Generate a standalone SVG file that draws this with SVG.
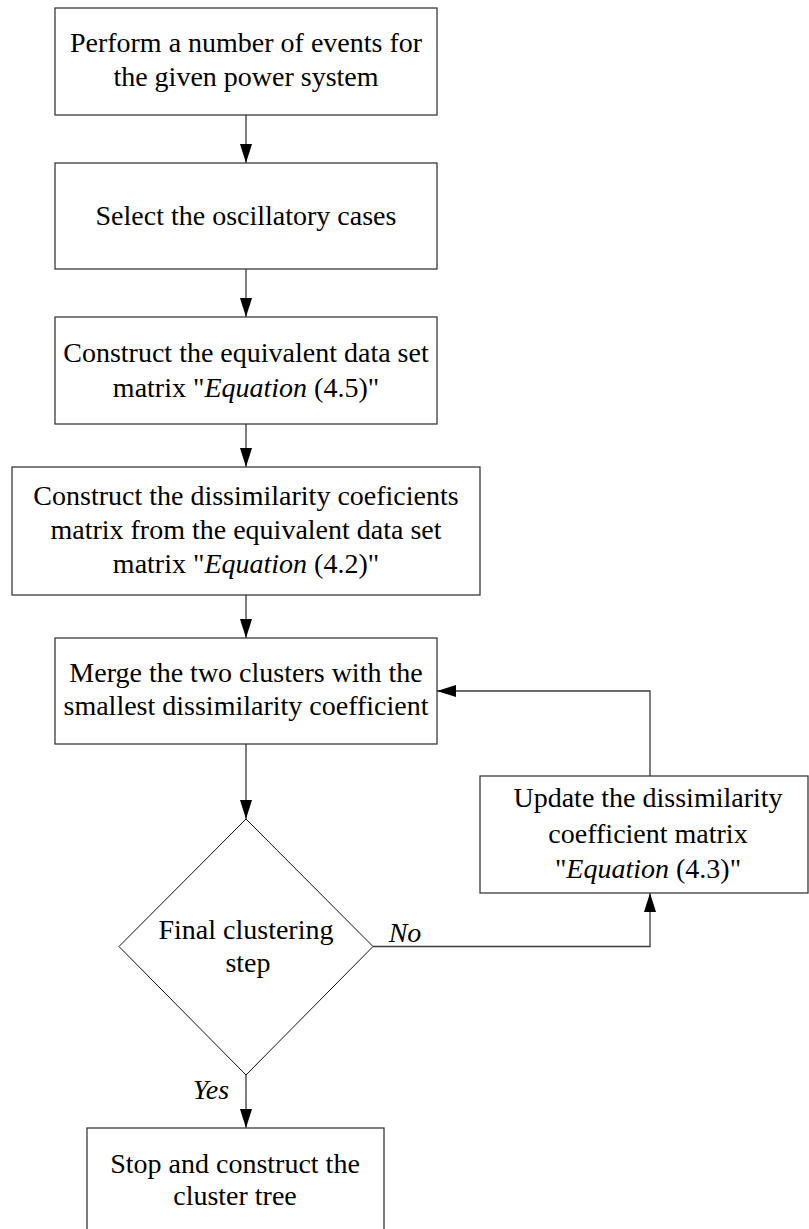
<svg xmlns="http://www.w3.org/2000/svg" width="809" height="1229" viewBox="0 0 809 1229">
<style>
.box{fill:#fff;stroke:#3a3a3a;stroke-width:1.3}
.dia{fill:#fff;stroke:#111;stroke-width:1}
.con{fill:none;stroke:#3a3a3a;stroke-width:1.3}
text{font-family:"Liberation Serif","Times New Roman",serif;font-size:28px;fill:#000;text-anchor:middle}
.it{font-style:italic}
</style>
<defs>
<marker id="ah" markerUnits="userSpaceOnUse" markerWidth="20" markerHeight="13" refX="19" refY="6" orient="auto">
<path d="M0,0 L19,6 L0,12 z" fill="#000"/>
</marker>
</defs>
<rect width="809" height="1229" fill="#fff"/>
<g id="connectors">
<line class="con" x1="246" y1="115" x2="246" y2="163" marker-end="url(#ah)"/>
<line class="con" x1="246" y1="269" x2="246" y2="317" marker-end="url(#ah)"/>
<line class="con" x1="246" y1="424" x2="246" y2="467" marker-end="url(#ah)"/>
<line class="con" x1="246" y1="595" x2="246" y2="638" marker-end="url(#ah)"/>
<line class="con" x1="246" y1="744" x2="246" y2="819" marker-end="url(#ah)"/>
<polyline class="con" points="650,776 650,691 437,691" marker-end="url(#ah)"/>
<polyline class="con" points="373,946.5 650,946.5 650,893" marker-end="url(#ah)"/>
<line class="con" x1="246" y1="1075" x2="246" y2="1128" marker-end="url(#ah)"/>
<text class="it" x="405" y="942">No</text>
<text class="it" x="211" y="1099">Yes</text>
</g>
<g id="n1">
<rect class="box" x="55" y="8" width="382" height="107"/>
<text x="246" y="52">Perform a number of events for</text>
<text x="246" y="86">the given power system</text>
</g>
<g id="n2">
<rect class="box" x="55" y="163" width="382" height="106"/>
<text x="246" y="225">Select the oscillatory cases</text>
</g>
<g id="n3">
<rect class="box" x="55" y="317" width="382" height="107"/>
<text x="246" y="362">Construct the equivalent data set</text>
<text x="246" y="397">matrix "<tspan class="it">Equation</tspan> (4.5)"</text>
</g>
<g id="n4">
<rect class="box" x="12" y="467" width="468" height="128"/>
<text x="246" y="505">Construct the dissimilarity coeficients</text>
<text x="246" y="539">matrix from the equivalent data set</text>
<text x="246" y="573">matrix "<tspan class="it">Equation</tspan> (4.2)"</text>
</g>
<g id="n5">
<rect class="box" x="55" y="638" width="382" height="106"/>
<text x="246" y="682">Merge the two clusters with the</text>
<text x="246" y="715">smallest dissimilarity coefficient</text>
</g>
<g id="n6">
<rect class="box" x="480" y="776" width="328" height="117"/>
<text x="648" y="807">Update the dissimilarity</text>
<text x="648" y="843">coefficient matrix</text>
<text x="648" y="878">"<tspan class="it">Equation</tspan> (4.3)"</text>
</g>
<g id="n7">
<polygon class="dia" points="246,819 373,946.5 246,1075 119,946.5"/>
<text x="246" y="939">Final clustering</text>
<text x="248" y="972">step</text>
</g>
<g id="n8">
<rect class="box" x="87" y="1128" width="297" height="110"/>
<text x="235" y="1173">Stop and construct the</text>
<text x="235" y="1205">cluster tree</text>
</g>
</svg>
